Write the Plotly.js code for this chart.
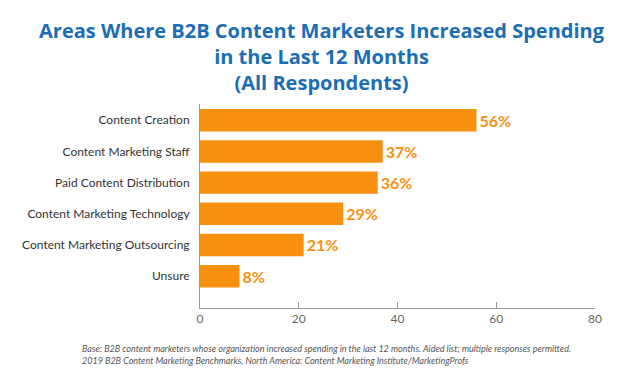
<!DOCTYPE html>
<html><head><meta charset="utf-8">
<script src="https://cdn.plot.ly/plotly-3.0.1.min.js"></script>
<style>body{margin:0;background:#fff}#c{width:642px;height:383px}</style>
</head><body><div id="c"></div>
<script>
const categories = ["Content Creation","Content Marketing Staff","Paid Content Distribution","Content Marketing Technology","Content Marketing Outsourcing","Unsure"];
const values = [56,37,36,29,21,8];
const valueLabels = ["56%","37%","36%","29%","21%","8%"];
const tickVals = [0,20,40,60,80];
const titleLines = ["Areas Where B2B Content Marketers Increased Spending","in the Last 12 Months","(All Respondents)"];
const footnotes = ["Base: B2B content marketers whose organization increased spending in the last 12 months. Aided list; multiple responses permitted.","2019 B2B Content Marketing Benchmarks, North America: Content Marketing Institute/MarketingProfs"];

const trace = {
  type:'bar', orientation:'h', x: values, y: categories,
  marker:{color:'#F8900F'}, width:0.72,
  text: valueLabels, textposition:'outside', cliponaxis:false,
  textfont:{family:'Lato, Open Sans, sans-serif', size:16, color:'#F8900F', weight:700},
  hoverinfo:'none'
};
const plotW = 642-200-47, plotH = 383-104-75;
const layout = {
  width:642, height:383,
  margin:{l:200,r:47,t:104,b:75},
  paper_bgcolor:'#fff', plot_bgcolor:'#fff',
  showlegend:false,
  xaxis:{range:[0,80], tickvals:tickVals, ticks:'inside', ticklen:6, tickcolor:'#999', tickwidth:1,
    showline:true, linecolor:'#999', linewidth:1, showgrid:false, zeroline:false,
    tickfont:{family:'Lato, sans-serif', size:12, color:'#666'}, fixedrange:true},
  yaxis:{range:[6.02,-0.52], showline:true, linecolor:'#999', linewidth:1, showgrid:false, zeroline:false,
    ticks:'', ticklabelstandoff:7,
    tickfont:{family:'Lato, Open Sans, sans-serif', size:12, color:'#333'}, fixedrange:true},
  annotations:[]
};
layout.annotations.push({
  text:'<b>'+titleLines.join('<br>')+'</b>', showarrow:false, xref:'paper', yref:'paper',
  x:(322-200)/plotW, y:(383-75-57)/plotH, xanchor:'center', yanchor:'middle', align:'center',
  font:{family:'Open Sans, sans-serif', size:20, color:'#1B6DB5'}
});
const footY = [348,360];
footnotes.forEach((t,i)=>{
  layout.annotations.push({
    text:'<i>'+t+'</i>', showarrow:false, xref:'paper', yref:'paper',
    x:(80-200)/plotW, y:(383-75-footY[i])/plotH, xanchor:'left', yanchor:'middle',
    font:{family:'Lato, sans-serif', size:9, color:'#555'}
  });
});
Plotly.newPlot('c',[trace],layout,{displayModeBar:false,staticPlot:true});
</script></body></html>
